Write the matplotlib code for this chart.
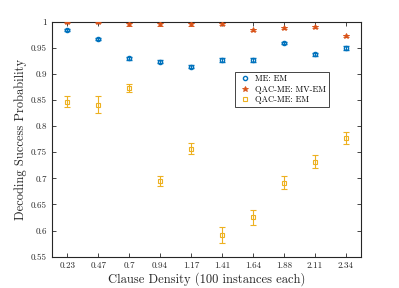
import numpy as np
import matplotlib.pyplot as plt
from matplotlib.lines import Line2D

# Data
densities = ['0.23', '0.47', '0.7', '0.94', '1.17', '1.41', '1.64', '1.88', '2.11', '2.34']

me_em = [0.985, 0.967, 0.930, 0.924, 0.914, 0.927, 0.927, 0.959, 0.938, 0.950]
me_em_err = [0.002, 0.002, 0.003, 0.002, 0.003, 0.003, 0.003, 0.002, 0.003, 0.003]

qac_mvem = [0.999, 0.999, 0.995, 0.995, 0.995, 0.996, 0.984, 0.989, 0.991, 0.973]
qac_mvem_err = [0.001, 0.001, 0.002, 0.002, 0.002, 0.002, 0.002, 0.002, 0.002, 0.002]

qac_em = [0.847, 0.841, 0.873, 0.695, 0.757, 0.592, 0.625, 0.692, 0.732, 0.777]
qac_em_err = [0.011, 0.016, 0.007, 0.009, 0.010, 0.015, 0.014, 0.013, 0.013, 0.012]

plt.rcParams['font.family'] = ['cmr10', 'DejaVu Serif']
plt.rcParams['axes.formatter.use_mathtext'] = True

c_blue = (0.0, 0.447, 0.741)
c_red = (0.85, 0.325, 0.098)
c_yel = (0.929, 0.694, 0.125)
c_ax = (0.15, 0.15, 0.15)

fig = plt.figure(figsize=(3.99, 2.88), dpi=100)
ax = fig.add_axes([0.130, 0.109, 0.775, 0.815])

x = np.arange(1, len(densities) + 1)

ax.errorbar(x, me_em, yerr=me_em_err, fmt='o', color=c_blue, mfc='none',
            ms=3, mew=1.0, elinewidth=0.8, capsize=2.5, capthick=0.8, zorder=3)
ax.errorbar(x, qac_mvem, yerr=qac_mvem_err, fmt='*', color=c_red,
            ms=4, mew=0.6, elinewidth=0.8, capsize=2.5, capthick=0.8, zorder=3)
ax.errorbar(x, qac_em, yerr=qac_em_err, fmt='s', ecolor=c_yel, mec=c_yel, mfc='none',
            ms=3, mew=0.8, elinewidth=0.8, capsize=2.5, capthick=0.8, zorder=3)

ax.set_xlim(0.5, 10.5)
ax.set_ylim(0.55, 1.0)
ax.set_xticks(x)
ax.set_xticklabels(densities)
ax.set_yticks(np.arange(0.55, 1.001, 0.05))
ax.set_yticklabels(['0.55', '0.6', '0.65', '0.7', '0.75', '0.8', '0.85', '0.9', '0.95', '1'])

ax.tick_params(direction='in', top=True, right=True, labelsize=6.5,
               length=3, width=0.6, colors=c_ax)
for s in ax.spines.values():
    s.set_linewidth(0.8)
    s.set_color(c_ax)

ax.set_xlabel('Clause Density (100 instances each)', fontsize=9, color=c_ax, labelpad=2)
ax.set_ylabel('Decoding Success Probability', fontsize=9, color=c_ax, labelpad=3)

handles = [
    Line2D([], [], ls='none', marker='o', ms=3, mew=1.0, mfc='none', color=c_blue),
    Line2D([], [], ls='none', marker='*', ms=4, mew=0.6, color=c_red),
    Line2D([], [], ls='none', marker='s', ms=3, mew=0.8, mfc='none', color=c_yel),
]
labels = ['ME: EM', 'QAC-ME: MV-EM', 'QAC-ME: EM']
leg = ax.legend(handles, labels, loc='upper left', bbox_to_anchor=(0.58, 0.805), fontsize=6.1,
                frameon=True, fancybox=False, edgecolor=c_ax, framealpha=1,
                handlelength=1.5, borderpad=0.35, labelspacing=0.25, handletextpad=0.5)
leg.get_frame().set_linewidth(0.6)

fig.savefig('out.png', dpi=100)
